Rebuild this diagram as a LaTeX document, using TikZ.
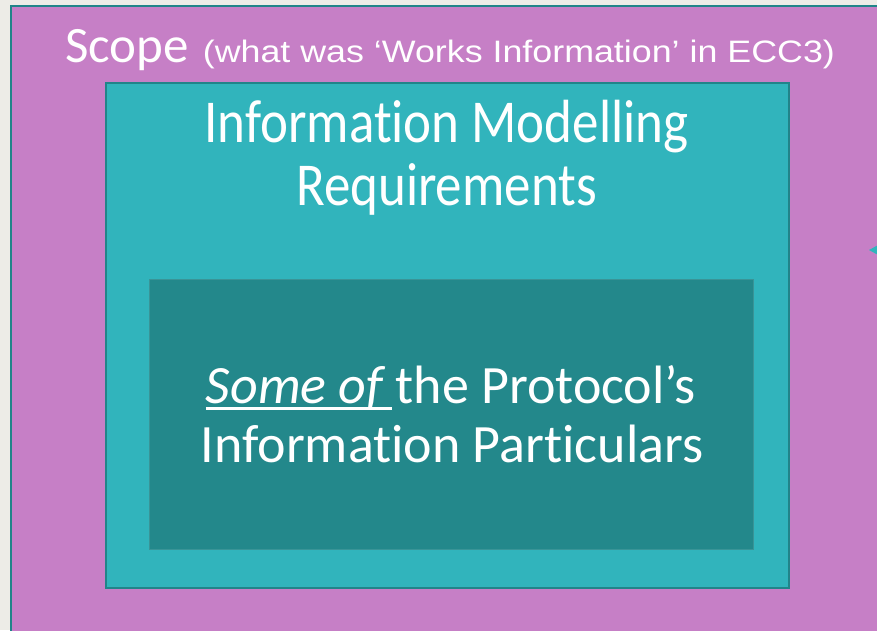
\documentclass[tikz,border=0pt]{standalone}
\usepackage{fontspec}
\setmainfont{Carlito}[Ligatures=NoCommon]
\newfontfamily\arialfont{Liberation Sans}
\definecolor{bgc}{HTML}{EDECE7}
\definecolor{purp}{HTML}{C67FC6}
\definecolor{tealmid}{HTML}{31B4BC}
\definecolor{tealdark}{HTML}{23888B}
\definecolor{tealedge}{HTML}{218489}
\newsavebox{\ulbox}
\newcommand{\thickul}[1]{\sbox{\ulbox}{#1}\rlap{\rule[-7pt]{\dimexpr\wd\ulbox+6pt\relax}{2.6pt}}\usebox{\ulbox}}
\begin{document}
\begin{tikzpicture}[x=1pt,y=-1pt,
  box/.style={draw=tealedge,line width=2pt},
  txt/.style={text=white,inner sep=0pt,align=center}]
\useasboundingbox (0,0) rectangle (877,630);
\fill[bgc] (0,0) rectangle (877,630);
\draw[box,fill=purp] (11,6) rectangle (890,640);
\node[box,fill=tealmid,minimum width=683pt,minimum height=505pt,anchor=north west,inner sep=0pt] (mid) at (105,82) {};
\node[draw=tealdark!90!white,line width=0.8pt,fill=tealdark,minimum width=604pt,minimum height=270pt,anchor=north west,inner sep=0pt] (inner) at (149,279) {};
\node[txt,anchor=base west] (scope) at (65,62) {\fontsize{51}{56}\selectfont Scope\hspace{14pt}\arialfont\fontsize{31}{36}\selectfont\scalebox{1.155}[1]{(what was ‘Works Information’ in ECC3)}};
\node[txt,anchor=base] (imr1) at (446.5,142) {\fontsize{53}{60}\selectfont\scalebox{1}[1.15]{Information Modelling}};
\node[txt,anchor=base] (imr2) at (446.5,205) {\fontsize{53}{60}\selectfont\scalebox{1}[1.15]{Requirements}};
\node[txt,anchor=base] (sp1) at (451,403) {\fontsize{54}{60}\selectfont\thickul{\textit{Some of}}\hspace{10pt}the Protocol’s};
\node[txt,anchor=base] (sp2) at (452,462) {\fontsize{54}{60}\selectfont Information Particulars};
\fill[tealmid] (869,250) -- (880,244) -- (880,256) -- cycle;
\end{tikzpicture}
\end{document}
